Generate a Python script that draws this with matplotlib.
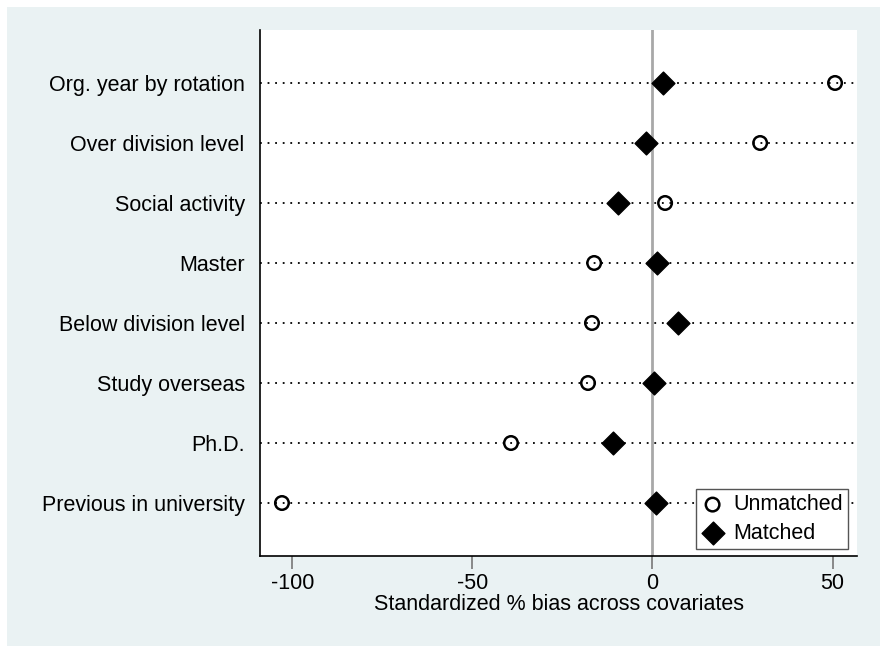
import matplotlib.pyplot as plt
from matplotlib.patches import Rectangle

plt.rcParams['font.family'] = ['Liberation Sans', 'DejaVu Sans']

# covariates, top to bottom
covariates = ['Org. year by rotation', 'Over division level', 'Social activity',
              'Master', 'Below division level', 'Study overseas', 'Ph.D.',
              'Previous in university']
unmatched = [50.7, 29.9, 3.5, -16.2, -16.8, -17.9, -39.3, -102.9]
matched = [2.9, -1.8, -9.6, 1.3, 7.1, 0.4, -11.0, 1.0]
xticks = [-100, -50, 0, 50]

W, H = 880, 646
FS = 15.5
fig = plt.figure(figsize=(W / 100, H / 100), dpi=100, facecolor='white')
fig.patches.append(Rectangle((7 / W, 0), 1 - 7 / W, 1 - 7 / H,
                             transform=fig.transFigure, facecolor='#EAF2F3',
                             edgecolor='none', zorder=-10))

ax = fig.add_axes([260 / W, (H - 556) / H, (857 - 260) / W, (556 - 30) / H])
ax.set_facecolor('white')

n = len(covariates)
ypos = list(range(n, 0, -1))

for y in ypos:
    ax.axhline(y, color='black', linestyle=(0, (1, 3.2)), linewidth=1.3, zorder=1)
ax.axvline(0, color='#A8A8A8', linewidth=2, zorder=2)

ax.scatter(unmatched, ypos, s=95, marker='o', facecolors='none',
           edgecolors='black', linewidths=1.8, zorder=3, label='Unmatched')
ax.scatter(matched, ypos, s=135, marker='D', color='black', zorder=3,
           label='Matched')

ax.set_xlim(-109.0, 56.8)
ax.set_ylim(0.117, n + 0.883)
ax.set_xticks(xticks)
ax.set_xticklabels([str(t) for t in xticks], fontsize=FS)
ax.set_yticks(ypos)
ax.set_yticklabels(covariates, fontsize=FS)
ax.tick_params(axis='x', length=9, width=1.3, color='#808080', pad=3)
ax.tick_params(axis='y', length=0, pad=11)
ax.set_xlabel('Standardized % bias across covariates', fontsize=FS, labelpad=0)

for side in ['top', 'right']:
    ax.spines[side].set_visible(False)
for side in ['left', 'bottom']:
    ax.spines[side].set_color('black')
    ax.spines[side].set_linewidth(1.2)

leg = ax.legend(loc='lower right', bbox_to_anchor=(0.985, 0.013), fontsize=FS,
                frameon=True, fancybox=False, framealpha=1, edgecolor='#555555',
                handletextpad=0.45, borderpad=0.25, labelspacing=0.35,
                handlelength=1.0, borderaxespad=0)
leg.get_frame().set_linewidth(1.0)

fig.savefig('out.png', dpi=100, facecolor=fig.get_facecolor())
